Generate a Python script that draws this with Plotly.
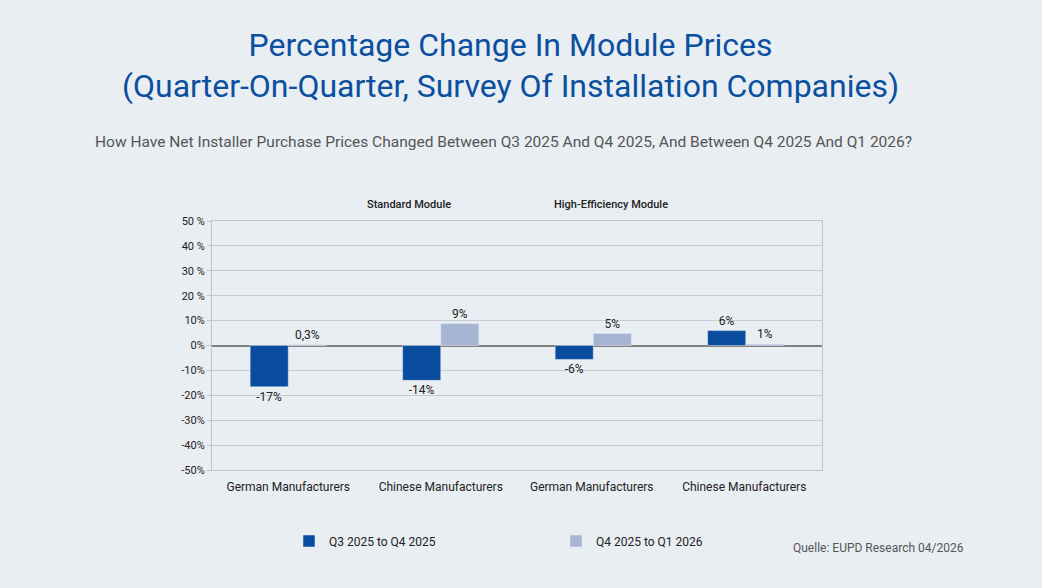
import plotly.graph_objects as go

# categories (two module groups x two manufacturer origins)
categories = ["German Manufacturers", "Chinese Manufacturers",
              "German Manufacturers ", "Chinese Manufacturers "]
groups = ["Standard Module", "High-Efficiency Module"]

# percentage change per period
q3_q4 = [-16.6, -14.0, -5.6, 6.0]
q4_q1 = [0.3, 8.8, 4.8, 0.5]
q3_q4_labels = ["-17%", "-14%", "-6%", "6%"]
q4_q1_labels = ["0,3%", "9%", "5%", "1%"]

tick_vals = [50, 40, 30, 20, 10, 0, -10, -20, -30, -40, -50]
tick_text = ["50 %", "40 %", "30 %", "20 %", "10%", "0%",
             "-10%", "-20%", "-30%", "-40%", "-50%"]

font_family = "Roboto, sans-serif"
bg = "#e9eef3"

# plot area in pixels, used to place the free texts
L, R, T, B = 212, 822, 221, 470


def px(x):
    return (x - L) / (R - L)


def py(y):
    return (B - y) / (B - T)


fig = go.Figure()
fig.add_trace(go.Bar(
    x=categories, y=q3_q4, name="Q3 2025 to Q4 2025",
    marker_color="#0a4c9e", text=q3_q4_labels, textposition="outside",
    textfont=dict(size=12, color="#222222"), cliponaxis=False,
    legend="legend",
))
fig.add_trace(go.Bar(
    x=categories, y=q4_q1, name="Q4 2025 to Q1 2026",
    marker_color="#a6b5d4", text=q4_q1_labels, textposition="outside",
    textfont=dict(size=12, color="#222222"), cliponaxis=False,
    legend="legend2",
))

# group headers above the plot
for i, g in enumerate(groups):
    fig.add_annotation(x=0.25 + 0.5 * i, y=py(204), xref="paper", yref="paper",
                       text=g, showarrow=False, yanchor="middle",
                       font=dict(size=11, color="#222222", weight=500))

# subtitle
fig.add_annotation(x=px(503), y=py(142), xref="paper", yref="paper",
                   text="How Have Net Installer Purchase Prices Changed Between Q3 2025 And Q4 2025, And Between Q4 2025 And Q1 2026?",
                   showarrow=False, xanchor="center", yanchor="middle",
                   font=dict(size=15.5, color="#555555"))

# source
fig.add_annotation(x=px(966), y=py(548), xref="paper", yref="paper",
                   text="Quelle: EUPD Research 04/2026", showarrow=False,
                   xanchor="right", yanchor="middle",
                   font=dict(size=12, color="#555555"))

legend_style = dict(orientation="h", xref="container", yref="container",
                    y=1 - 541 / 588, xanchor="left", yanchor="middle",
                    itemwidth=30, font=dict(size=12, color="#222222"),
                    bgcolor="rgba(0,0,0,0)")

fig.update_layout(
    width=1042, height=588,
    paper_bgcolor=bg, plot_bgcolor=bg,
    font=dict(family=font_family, color="#222222"),
    title=dict(
        text="Percentage Change In Module Prices<br>(Quarter-On-Quarter, Survey Of Installation Companies)",
        x=0.49, xanchor="center", y=0.905, yanchor="top",
        font=dict(size=32, color="#0b4f9f"),
    ),
    margin=dict(l=L, r=1042 - R, t=T, b=588 - B),
    barmode="group", bargap=0.5, bargroupgap=0,
    showlegend=True,
    legend=dict(x=289 / 1042, **legend_style),
    legend2=dict(x=556 / 1042, **legend_style),
)
fig.update_xaxes(showline=True, linecolor="#c0c4c8", mirror=True,
                 tickfont=dict(size=12, color="#222222"), ticks="",
                 ticklabelstandoff=6)
fig.update_yaxes(range=[-50, 50], tickvals=tick_vals, ticktext=tick_text,
                 showgrid=True, gridcolor="#c8cbcf", gridwidth=1,
                 zeroline=True, zerolinecolor="#808080", zerolinewidth=2,
                 showline=True, linecolor="#c0c4c8", mirror=True,
                 ticks="outside", ticklen=4, tickcolor="#c0c4c8",
                 tickfont=dict(size=11, color="#222222"))

fig.write_html("out.html", config={"displayModeBar": False},
               post_script="document.body.style.margin='0';")
